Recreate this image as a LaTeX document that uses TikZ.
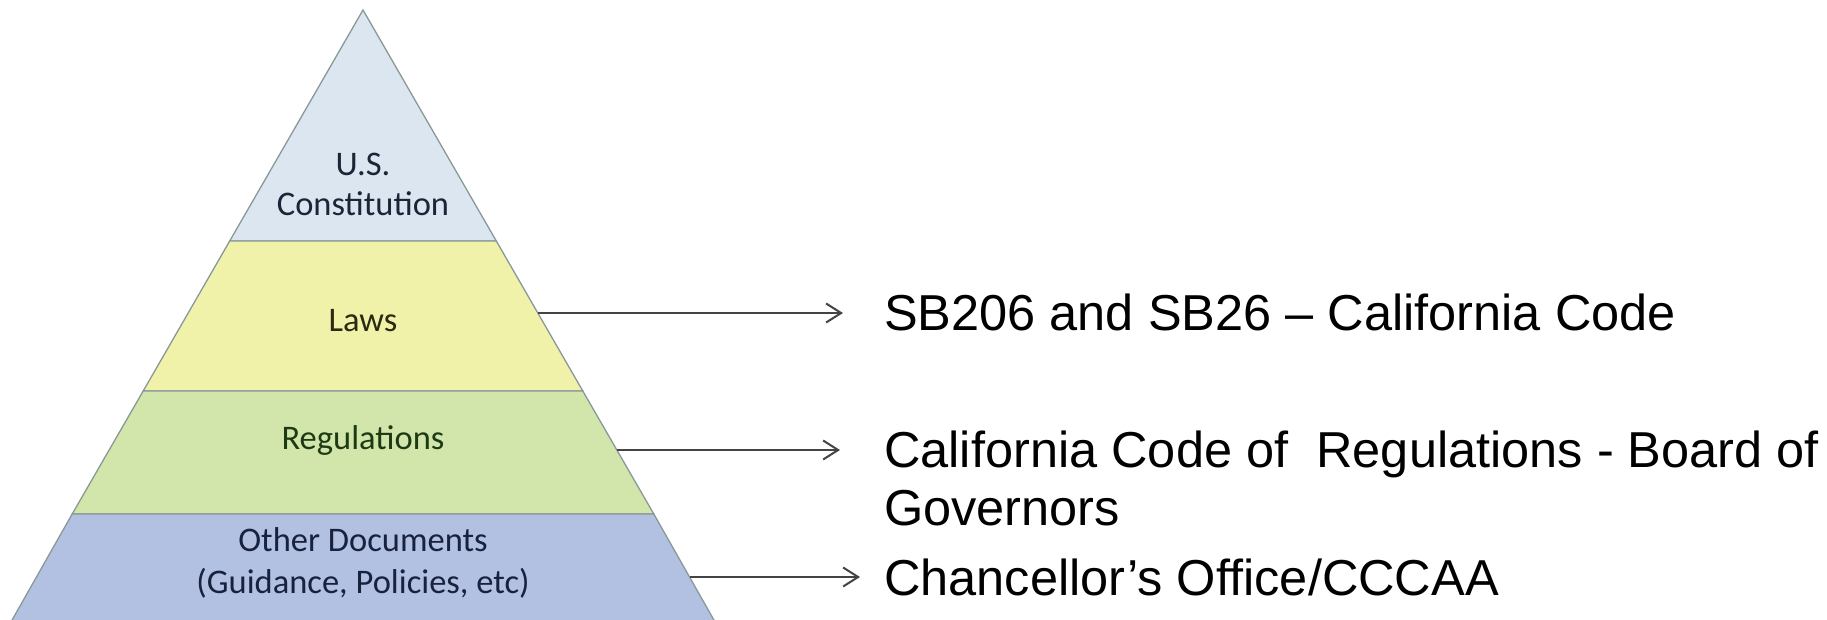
\documentclass[tikz,border=0pt]{standalone}
\usepackage{fontspec}
\setmainfont{Liberation Sans}
\newfontfamily\bandfont{Carlito}
\usetikzlibrary{arrows.meta}

\definecolor{constfill}{HTML}{DCE6F0}
\definecolor{lawsfill}{HTML}{F1F2AA}
\definecolor{regsfill}{HTML}{D2E6AB}
\definecolor{otherfill}{HTML}{B2C1E1}
\definecolor{bandedge}{HTML}{8A9898}
\definecolor{consttext}{HTML}{1C2538}
\definecolor{lawstext}{HTML}{2A2A12}
\definecolor{regstext}{HTML}{1E3A14}
\definecolor{othertext}{HTML}{18213E}
\definecolor{arrowgray}{HTML}{444444}

\tikzset{
  band/.style={draw=bandedge, line width=1.3pt, line join=miter},
  % base anchor of a multi-line label sits on its last line
  bandlabel/.style={anchor=base, inner sep=0pt, align=center,
    font=\bandfont\fontsize{34.5}{40}\selectfont},
  sidelabel/.style={anchor=base west, inner sep=0pt, align=left,
    font=\fontsize{50.5}{58}\selectfont, text=black},
  pointer/.style={draw=arrowgray, line width=2pt,
    -{Straight Barb[length=15pt, width=19pt, line width=2pt]}}
}

\begin{document}
\begin{tikzpicture}[x=1pt, y=-1pt]
\useasboundingbox (0,0) rectangle (1827,620);
\fill[white] (0,0) rectangle (1827,620);

% pyramid bands, apex at (363,10), half-width grows 352 over 610
\filldraw[band, fill=constfill] (363,10) -- (496.3,241) -- (229.7,241) -- cycle;
\filldraw[band, fill=lawsfill] (229.7,241) -- (496.3,241) -- (582.8,391) -- (143.2,391) -- cycle;
\filldraw[band, fill=regsfill] (143.2,391) -- (582.8,391) -- (653.8,514) -- (72.2,514) -- cycle;
\filldraw[band, fill=otherfill] (72.2,514) -- (653.8,514) -- (716.2,624) -- (9.8,624) -- cycle;

% band labels
\node[bandlabel, text=consttext] (const) at (363,216) {U.S.\\Constitution};
\node[bandlabel, text=lawstext] (laws) at (363,331) {Laws};
\node[bandlabel, text=regstext] (regs) at (363,449) {Regulations};
\node[bandlabel, text=othertext, font=\bandfont\fontsize{34.5}{42}\selectfont] (other) at (363,593) {Other Documents\\(Guidance, Policies, etc)};

% sources on the right
\node[sidelabel] (code) at (884,330) {SB206 and SB26 – California Code};
\node[sidelabel] (ccr) at (884,525) {California Code of~ Regulations - Board of\\Governors};
\node[sidelabel] (cco) at (884,595) {Chancellor’s Office/CCCAA};

% connectors from the pyramid's right edge
\coordinate (lawsEdge) at (537.8,313);
\coordinate (regsEdge) at (616.9,450);
\coordinate (otherEdge) at (690.2,577);
\coordinate (codeTip) at (843,313);
\coordinate (ccrTip) at (840,450);
\coordinate (ccoTip) at (860,577);
\draw[pointer] (lawsEdge) -- (codeTip);
\draw[pointer] (regsEdge) -- (ccrTip);
\draw[pointer] (otherEdge) -- (ccoTip);
\end{tikzpicture}
\end{document}
